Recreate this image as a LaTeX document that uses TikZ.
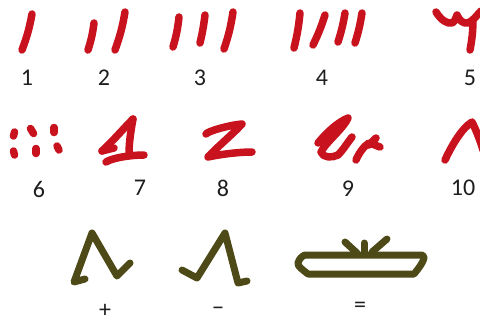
\documentclass[tikz,border=0pt]{standalone}
\usepackage{fontspec}
\setmainfont{Carlito}
\definecolor{inkred}{HTML}{C8121E}
\definecolor{olive}{HTML}{4E4A18}
\definecolor{labelc}{HTML}{1E1E1E}
\begin{document}
\begin{tikzpicture}[x=1pt,y=-1pt,
  redpen/.style={draw=inkred,line width=7.5pt,line cap=round,line join=round},
  olivepen/.style={draw=olive,line width=7pt,line cap=round,line join=round},
  lbl/.style={font=\fontsize{24}{24}\selectfont,text=labelc,inner sep=0pt}]
\useasboundingbox[fill=white] (0,0) rectangle (480,327);
% ---- row 1
\draw[redpen] (32,14) to[bend left=5] (22,50);
\draw[redpen] (94,23) to[bend left=5] (88,50);
\draw[redpen] (125,12) to[bend left=5] (115,50);
\draw[redpen] (179,17) to[bend left=5] (173,47);
\draw[redpen] (205,15) to[bend left=3] (200,43);
\draw[redpen] (233,12) to[bend left=5] (224,49);
\draw[redpen] (300,13) to[bend left=4] (294,48);
\draw[redpen] (325,15) to[bend left=4] (313,45);
\draw[redpen] (345,13) to[bend left=4] (338,42);
\draw[redpen] (362,13) to[bend left=4] (355,43);
\draw[redpen] (436,12) .. controls (441,20) and (447,24) .. (452,23)
  .. controls (455,22) and (456,17) .. (457,15)
  .. controls (459,20) and (463,24) .. (468,23)
  .. controls (473,21) and (477,15) .. (481,11);
\draw[redpen] (473,20) to[bend left=5] (470,50);
% ---- row 2
\draw[redpen] (14.5,132) -- (13.5,136);
\draw[redpen] (30.5,128.5) -- (33.5,133.5);
\draw[redpen] (54,127.5) -- (54,132.5);
\draw[redpen] (13.5,151) -- (14.5,155);
\draw[redpen] (36,148.5) -- (36,153.5);
\draw[redpen] (57,146) -- (59,150);
\draw[redpen] (102,151) .. controls (112,142) and (124,128) .. (133,119);
\draw[redpen] (102,151) -- (114,148);
\draw[redpen] (133,119) .. controls (131,130) and (129,142) .. (129,154);
\draw[redpen] (106,162) .. controls (112,158) and (130,155) .. (144,155);
\draw[redpen] (206,134) .. controls (208,131) and (230,125) .. (242,124)
  .. controls (232,135) and (216,148) .. (208,157)
  .. controls (222,154) and (240,152) .. (252,152);
\draw[redpen] (318,143) .. controls (326,133) and (338,122) .. (348,118)
  .. controls (344,128) and (326,142) .. (321,152)
  .. controls (323,158) and (332,158) .. (338,155)
  .. controls (343,150) and (348,142) .. (352,137);
\draw[redpen] (356,160) .. controls (359,153) and (364,146) .. (369,143)
  .. controls (373,144) and (377,146) .. (380,147);
\draw[redpen] (369,145) -- (376,138);
\draw[redpen] (445,160) .. controls (452,145) and (462,128) .. (472,122)
  .. controls (476,130) and (480,140) .. (483,150);
% ---- row 3
\draw[olivepen] (85,279) -- (74,282) -- (92,233) -- (117,276) -- (130,263);
\draw[olivepen] (182,270) -- (197,278) -- (225,233) -- (238,283) -- (247,281);
\draw[olivepen] (305,255) -- (422,255) .. controls (426,256) and (424,262) .. (414,274)
  -- (308,274) .. controls (303,270) and (297,266) .. (298,263) .. controls (299,259) and (302,256) .. (305,255) -- cycle;
\draw[olivepen] (345,242) -- (357,253);
\draw[olivepen] (364,243) -- (364,253);
\draw[olivepen] (387,239) -- (372,252);
% ---- labels
\node[lbl] (l1) at (27,78) {1};
\node[lbl] (l2) at (104,78) {2};
\node[lbl] (l3) at (200,78) {3};
\node[lbl] (l4) at (322,78) {4};
\node[lbl] (l5) at (470,78) {5};
\node[lbl] (l6) at (39,189) {6};
\node[lbl] (l7) at (140,188) {7};
\node[lbl] (l8) at (223,188) {8};
\node[lbl] (l9) at (348,189) {9};
\node[lbl] (l10) at (463,188) {10};
\node[lbl] (lp) at (105,311) {+};
\node[lbl] (lm) at (218,311) {−};
\node[lbl] (le) at (360,307) {=};
\end{tikzpicture}
\end{document}
